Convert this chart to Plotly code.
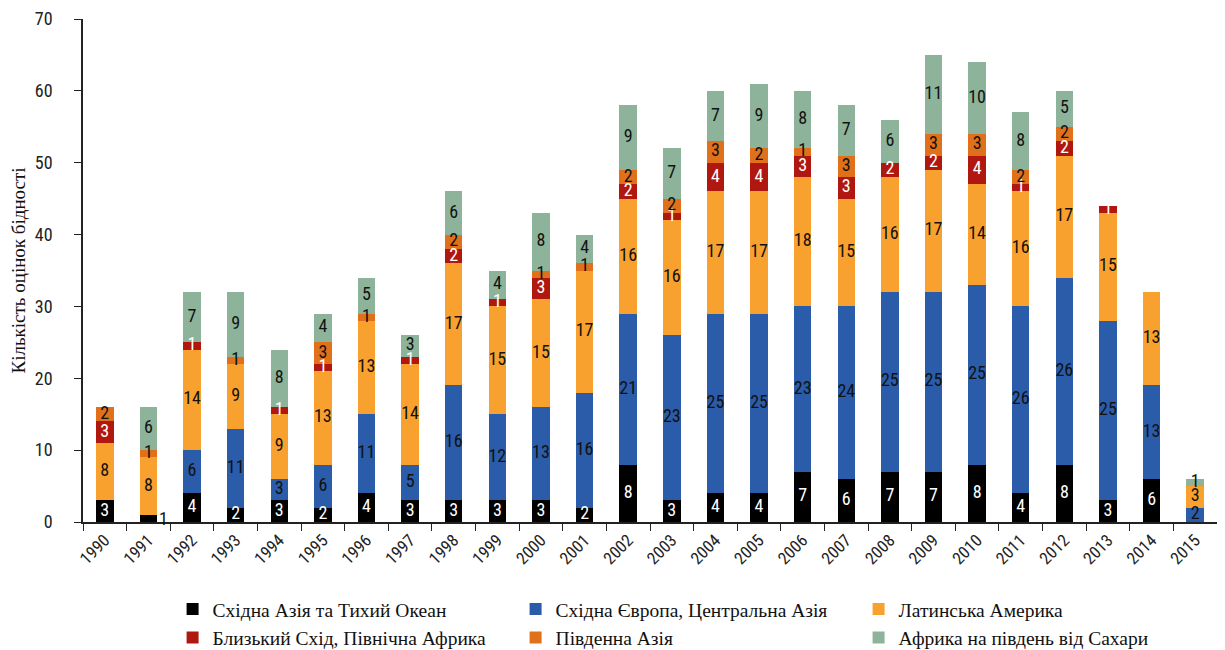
import plotly.graph_objects as go

years = [str(y) for y in range(1990, 2016)]

series_names = [
    "Східна Азія та Тихий Океан",
    "Східна Європа, Центральна Азія",
    "Латинська Америка",
    "Близький Схід, Північна Африка",
    "Південна Азія",
    "Африка на південь від Сахари",
]

eap  = [3, 1, 4, 2, 3, 2, 4, 3, 3, 3, 3, 2, 8, 3, 4, 4, 7, 6, 7, 7, 8, 4, 8, 3, 6, 0]
eca  = [0, 0, 6, 11, 3, 6, 11, 5, 16, 12, 13, 16, 21, 23, 25, 25, 23, 24, 25, 25, 25, 26, 26, 25, 13, 2]
lac  = [8, 8, 14, 9, 9, 13, 13, 14, 17, 15, 15, 17, 16, 16, 17, 17, 18, 15, 16, 17, 14, 16, 17, 15, 13, 3]
mena = [3, 0, 1, 0, 1, 1, 0, 1, 2, 1, 3, 0, 2, 1, 4, 4, 3, 3, 2, 2, 4, 1, 2, 1, 0, 0]
sa   = [2, 1, 0, 1, 0, 3, 1, 0, 2, 0, 1, 1, 2, 2, 3, 2, 1, 3, 0, 3, 3, 2, 2, 0, 0, 0]
ssa  = [0, 6, 7, 9, 8, 4, 5, 3, 6, 4, 8, 4, 9, 7, 7, 9, 8, 7, 6, 11, 10, 8, 5, 0, 0, 1]

series_values = [eap, eca, lac, mena, sa, ssa]
colors = ["#000000", "#2a5caa", "#f9a12e", "#b0170f", "#e0701a", "#8db49a"]
text_colors = ["#ffffff", "#111111", "#111111", "#ffffff", "#111111", "#111111"]

# label of 1991 East Asia is drawn outside the bar (to its right) in the original
outside_label = (0, 1)  # (series index, year index)

narrow = "Liberation Sans Narrow, Arial Narrow, Roboto Condensed, Roboto, sans-serif"
serif = "Liberation Serif, Times New Roman, serif"

fig = go.Figure()

# stacked bars
for si, (name, vals) in enumerate(zip(series_names, series_values)):
    fig.add_trace(go.Bar(
        x=years, y=vals, name=name,
        marker=dict(color=colors[si], line=dict(width=0)),
    ))

# segment value labels, centred on each segment
base = [0] * len(years)
for si, vals in enumerate(series_values):
    mids, texts = [], []
    for yi, v in enumerate(vals):
        mids.append(base[yi] + v / 2)
        if v == 0 or (si, yi) == outside_label:
            texts.append("")
        else:
            texts.append(str(v))
    fig.add_trace(go.Scatter(
        x=years, y=mids, mode="text", text=texts, textposition="middle center",
        textfont=dict(family=narrow, size=18, color=text_colors[si]),
        showlegend=False, hoverinfo="skip", cliponaxis=False,
    ))
    base = [b + v for b, v in zip(base, vals)]

si, yi = outside_label
fig.add_annotation(
    x=yi, y=series_values[si][yi] / 2, text=str(series_values[si][yi]),
    showarrow=False, xanchor="left", xshift=9,
    font=dict(family=narrow, size=18, color="#111111"),
)

fig.update_layout(
    barmode="stack",
    bargap=0.6,
    width=1225, height=650,
    margin=dict(l=75, r=16, t=11, b=136, autoexpand=False),
    paper_bgcolor="white", plot_bgcolor="white",
    showlegend=True,
    legend=dict(
        orientation="h", x=0.079, y=-0.135, xanchor="left", yanchor="top",
        font=dict(family=serif, size=19.5, color="#111111"),
        entrywidth=298, entrywidthmode="pixels",
        itemwidth=30, traceorder="normal",
    ),
)

fig.update_xaxes(
    type="category", range=[-0.5, len(years) - 0.5],
    tickangle=-45, tickson="boundaries",
    ticks="outside", ticklen=7, tickcolor="#222222",
    showline=True, linecolor="#222222", linewidth=1.5,
    tickfont=dict(family=narrow, size=17, color="#222222"),
    showgrid=False,
)
fig.update_yaxes(
    range=[0, 70], dtick=10, ticks="outside", ticklen=7, tickcolor="#222222",
    showline=True, linecolor="#222222", linewidth=1.5,
    tickfont=dict(family=narrow, size=18, color="#222222"),
    ticklabelstandoff=18,
    showgrid=False, zeroline=False,
    title=dict(text="Кількість оцінок бідності",
               font=dict(family=serif, size=19, color="#111111"), standoff=8),
)

fig.write_html("out.html")
